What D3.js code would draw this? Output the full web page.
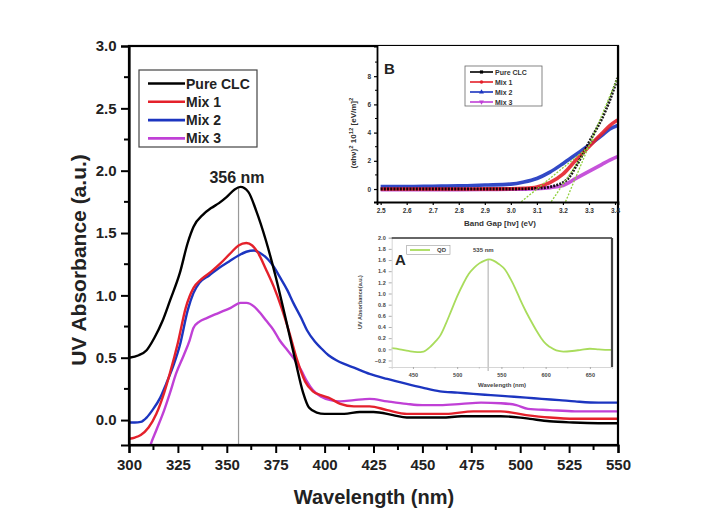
<!DOCTYPE html>
<html><head><meta charset="utf-8">
<script src="https://cdn.jsdelivr.net/npm/d3@7"></script>
<style>body{margin:0;background:#fff}svg{display:block;font-family:"Liberation Sans",Arial,sans-serif}</style>
</head><body>
<svg id="c" width="720" height="516"></svg>
<script>
// ---------------- DATA ----------------
const seriesNames = ["Pure CLC", "Mix 1", "Mix 2", "Mix 3"];
const xTicksMain = [300, 325, 350, 375, 400, 425, 450, 475, 500, 525, 550];
const yTicksMain = [0.0, 0.5, 1.0, 1.5, 2.0, 2.5, 3.0];
const peakMain = 356;
const pureCLC = [[300,0.50],[305,0.52],[309,0.56],[313,0.66],[317,0.79],[321,0.96],[326,1.18],[330,1.42],[333,1.55],[338,1.65],[342,1.70],[346,1.74],[350,1.79],[354,1.85],[357,1.87],[361,1.83],[365,1.68],[370,1.44],[375,1.15],[380,0.82],[385,0.48],[389,0.22],[392,0.10],[396,0.06],[400,0.05],[410,0.05],[418,0.065],[425,0.065],[435,0.04],[442,0.02],[450,0.02],[460,0.02],[470,0.03],[480,0.03],[490,0.03],[500,0.02],[505,0.01],[515,-0.01],[527,-0.02],[540,-0.025],[550,-0.025]];
const mix1 = [[300,-0.15],[303,-0.14],[306,-0.12],[310,-0.06],[314,0.05],[318,0.22],[321,0.38],[325,0.62],[329,0.90],[333,1.06],[337,1.13],[342,1.19],[347,1.26],[352,1.34],[356,1.40],[360,1.42],[363,1.40],[366,1.34],[370,1.21],[374,1.07],[378,0.90],[382,0.70],[386,0.48],[390,0.31],[394,0.23],[398,0.20],[402,0.18],[408,0.13],[415,0.11],[423,0.11],[432,0.08],[442,0.05],[452,0.05],[462,0.05],[476,0.07],[490,0.07],[503,0.04],[515,0.02],[528,0.01],[540,0.01],[550,0.01]];
const mix2 = [[300,-0.02],[303,-0.02],[306,-0.015],[309,0.02],[312,0.08],[316,0.18],[319,0.29],[323,0.45],[326,0.60],[330,0.88],[333,1.02],[336,1.10],[341,1.16],[346,1.22],[351,1.27],[356,1.32],[360,1.35],[364,1.36],[367,1.34],[371,1.29],[374,1.23],[377,1.15],[381,1.04],[384,0.94],[388,0.82],[391,0.72],[395,0.63],[398,0.58],[402,0.52],[406,0.48],[410,0.45],[415,0.42],[423,0.37],[432,0.33],[442,0.29],[450,0.26],[459,0.23],[468,0.22],[476,0.21],[485,0.20],[494,0.19],[503,0.18],[511,0.17],[520,0.16],[528,0.15],[540,0.14],[550,0.14]];
const mix3 = [[308,-0.38],[311,-0.20],[314,-0.08],[318,0.08],[321,0.22],[324,0.37],[328,0.52],[331,0.64],[333,0.74],[336,0.79],[340,0.82],[346,0.86],[352,0.90],[357,0.94],[360,0.94],[364,0.91],[367,0.86],[370,0.80],[374,0.72],[377,0.64],[381,0.56],[384,0.50],[388,0.40],[391,0.31],[394,0.24],[398,0.19],[403,0.16],[408,0.15],[415,0.16],[423,0.17],[432,0.15],[442,0.13],[450,0.12],[459,0.12],[470,0.13],[480,0.14],[490,0.135],[498,0.12],[504,0.09],[515,0.08],[528,0.07],[540,0.07],[550,0.07]];

// Inset B (Tauc plot)
const bgXTicks = [2.5, 2.6, 2.7, 2.8, 2.9, 3.0, 3.1, 3.2, 3.3, 3.4];
const bgYTicks = [0, 2, 4, 6, 8];
const bgPure = [[2.5,0],[2.6,0],[2.7,0],[2.8,0],[2.9,0],[3.0,0],[3.1,0.05],[3.15,0.15],[3.18,0.3],[3.2,0.45],[3.22,0.75],[3.25,1.6],[3.28,2.6],[3.3,3.3],[3.33,4.3],[3.35,5.0],[3.38,6.3],[3.41,7.9]];
const bgMix1 = [[2.5,0],[2.6,0],[2.7,0],[2.8,0],[2.9,0.01],[3.0,0.02],[3.05,0.05],[3.1,0.15],[3.15,0.45],[3.2,1.05],[3.25,2.05],[3.3,3.0],[3.35,3.95],[3.38,4.5],[3.41,4.9]];
const bgMix2 = [[2.5,0.18],[2.6,0.18],[2.7,0.2],[2.8,0.22],[2.9,0.28],[3.0,0.35],[3.05,0.5],[3.1,0.75],[3.15,1.2],[3.2,1.8],[3.25,2.45],[3.3,3.1],[3.35,3.8],[3.38,4.25],[3.41,4.5]];
const bgMix3 = [[2.5,-0.05],[2.6,-0.05],[2.7,-0.05],[2.8,-0.04],[2.9,-0.03],[3.0,-0.02],[3.1,0.03],[3.15,0.1],[3.2,0.25],[3.25,0.75],[3.3,1.25],[3.35,1.75],[3.38,2.05],[3.41,2.3]];
const bgTangents = [[[3.04,-0.9],[3.30,3.0]],[[3.155,-0.9],[3.32,3.6]],[[3.21,-0.9],[3.41,7.9]]];

// Inset A (QD absorbance)
const qdXTicks = [450, 500, 550, 600, 650];
const qdYTicks = [-0.2, 0.0, 0.2, 0.4, 0.6, 0.8, 1.0, 1.2, 1.4, 1.6, 1.8, 2.0];
const qdPeak = 535;
const qd = [[426,0.02],[435,0.0],[445,-0.03],[455,-0.05],[462,-0.04],[470,0.05],[476,0.15],[481,0.25],[487,0.45],[493,0.68],[500,0.95],[507,1.18],[513,1.35],[519,1.46],[525,1.54],[531,1.59],[536,1.61],[541,1.59],[547,1.53],[554,1.43],[560,1.27],[566,1.08],[571,0.90],[577,0.70],[583,0.52],[589,0.35],[595,0.20],[600,0.10],[605,0.04],[612,-0.02],[620,-0.04],[630,-0.03],[640,-0.01],[650,0.01],[660,0.0],[670,-0.01],[675,-0.01]];

// ---------------- DRAW ----------------
const colors = ["#000000", "#e4212b", "#1c35c0", "#c040d6"];
const svg = d3.select("#c");
const FONT = "Liberation Sans, Arial, sans-serif";

// main scales
const x = d3.scaleLinear().domain([300, 550]).range([129, 618]);
const y = d3.scaleLinear().domain([-0.2, 3.0]).range([445, 46]);

svg.append("clipPath").attr("id","mclip").append("rect")
  .attr("x",129).attr("y",46).attr("width",489).attr("height",399);

// peak vertical line
svg.append("line").attr("x1",x(peakMain)).attr("x2",x(peakMain))
  .attr("y1",y(1.87)).attr("y2",y(-0.2)).attr("stroke","#999").attr("stroke-width",1.2);

const line = d3.line().x(d=>x(d[0])).y(d=>y(d[1])).curve(d3.curveMonotoneX);
const mainSeries = [pureCLC, mix1, mix2, mix3];
const mg = svg.append("g").attr("clip-path","url(#mclip)");
[3,2,1,0].forEach(i=>{
  mg.append("path").attr("d",line(mainSeries[i])).attr("fill","none")
    .attr("stroke",colors[i]).attr("stroke-width",2.4).attr("stroke-linejoin","round");
});

// frame
svg.append("rect").attr("x",129).attr("y",46).attr("width",489).attr("height",399)
  .attr("fill","none").attr("stroke","#000").attr("stroke-width",2.2);

// axes
const xAxis = d3.axisBottom(x).tickValues(xTicksMain).tickSize(8).tickFormat(d3.format("d"));
const gx = svg.append("g").attr("transform","translate(0,445)").call(xAxis);
const xMinor = d3.range(312.5, 550, 25);
gx.selectAll(".minor").data(xMinor).enter().append("line").attr("class","minor")
  .attr("x1",d=>x(d)).attr("x2",d=>x(d)).attr("y1",0).attr("y2",5).attr("stroke","#000").attr("stroke-width",2);
const yAxis = d3.axisLeft(y).tickValues(yTicksMain).tickSize(8).tickFormat(d3.format(".1f"));
const gy = svg.append("g").attr("transform","translate(129,0)").call(yAxis);
const yMinor = [0.25, 0.75, 1.25, 1.75, 2.25, 2.75];
gy.selectAll(".minor").data(yMinor).enter().append("line").attr("class","minor")
  .attr("x1",0).attr("x2",-5).attr("y1",d=>y(d)).attr("y2",d=>y(d)).attr("stroke","#000").attr("stroke-width",2);
[gx, gy].forEach(g=>{
  g.select(".domain").attr("stroke","#000").attr("stroke-width",2.2);
  g.selectAll(".tick line").attr("stroke","#000").attr("stroke-width",2);
  g.selectAll(".tick text").attr("font-family",FONT).attr("font-weight","bold").attr("font-size",15).attr("fill","#222");
});
gx.selectAll(".tick text").attr("dy","0.95em");
gy.selectAll(".tick text").attr("dx","-0.1em");

// axis titles
svg.append("text").attr("x",374).attr("y",504).attr("text-anchor","middle")
  .attr("font-family",FONT).attr("font-weight","bold").attr("font-size",20).attr("fill","#222").text("Wavelength (nm)");
svg.append("text").attr("transform","translate(86,260) rotate(-90)").attr("text-anchor","middle")
  .attr("font-family",FONT).attr("font-weight","bold").attr("font-size",21).attr("fill","#222").text("UV Absorbance (a.u.)");

// peak label
svg.append("text").attr("x",237).attr("y",183).attr("text-anchor","middle")
  .attr("font-family",FONT).attr("font-weight","bold").attr("font-size",16).attr("fill","#222").text(peakMain + " nm");

// main legend
const lg = svg.append("g");
lg.append("rect").attr("x",139).attr("y",70).attr("width",118).attr("height",77)
  .attr("fill","#fff").attr("stroke","#444").attr("stroke-width",1.2);
seriesNames.forEach((n,i)=>{
  const yy = 83.5 + i*18.3;
  lg.append("line").attr("x1",148).attr("x2",185).attr("y1",yy).attr("y2",yy).attr("stroke",colors[i]).attr("stroke-width",2.6);
  lg.append("text").attr("x",186).attr("y",yy+5).attr("font-family",FONT).attr("font-weight","bold")
    .attr("font-size",14).attr("fill","#222").text(n);
});

// ---------------- INSET B ----------------
const bx = d3.scaleLinear().domain([2.486, 3.4115]).range([377, 618]);
const by = d3.scaleLinear().domain([-0.92, 10.14]).range([202, 46]);
svg.append("rect").attr("x",377).attr("y",46).attr("width",241).attr("height",156).attr("fill","#fff");
svg.append("clipPath").attr("id","bclip").append("rect").attr("x",377).attr("y",46).attr("width",241).attr("height",156);
const bline = d3.line().x(d=>bx(d[0])).y(d=>by(d[1])).curve(d3.curveMonotoneX);
const bg = svg.append("g").attr("clip-path","url(#bclip)");
const bSeries = [bgPure, bgMix1, bgMix2, bgMix3];
[3,2,1,0].forEach(i=>{
  bg.append("path").attr("d",bline(bSeries[i])).attr("fill","none").attr("stroke",colors[i])
    .attr("stroke-width",i===0?2.8:3.6).attr("stroke-dasharray",i===0?"2,1.2":null).attr("opacity",0.9);
});
bgTangents.forEach(t=>{
  bg.append("path").attr("d",d3.line().x(d=>bx(d[0])).y(d=>by(d[1]))(t)).attr("fill","none")
    .attr("stroke","#8fcf3c").attr("stroke-width",1.3).attr("stroke-dasharray","2,1.5");
});
// B axes
const gbx = svg.append("g").attr("transform","translate(0,202)")
  .call(d3.axisBottom(bx).tickValues(bgXTicks).tickSize(3).tickFormat(d3.format(".1f")));
const gby = svg.append("g").attr("transform","translate(377,0)")
  .call(d3.axisLeft(by).tickValues(bgYTicks).tickSize(3).tickFormat(d3.format("d")));
gby.selectAll(".minor").data([1,3,5,7,9]).enter().append("line").attr("class","minor")
  .attr("x1",0).attr("x2",-2).attr("y1",d=>by(d)).attr("y2",d=>by(d)).attr("stroke","#000");
[gbx,gby].forEach(g=>{
  g.select(".domain").attr("stroke","#000").attr("stroke-width",1.8);
  g.selectAll(".tick line").attr("stroke","#000").attr("stroke-width",1.2);
  g.selectAll(".tick text").attr("font-family",FONT).attr("font-weight","bold").attr("font-size",6.5).attr("fill","#333");
});
svg.append("line").attr("x1",618).attr("x2",618).attr("y1",46).attr("y2",202).attr("stroke","#000").attr("stroke-width",2.2);
svg.append("text").attr("x",500).attr("y",226).attr("text-anchor","middle").attr("font-family",FONT)
  .attr("font-weight","bold").attr("font-size",8).attr("fill","#333").text("Band Gap [hν] (eV)");
const byl = svg.append("text").attr("transform","translate(356,133) rotate(-90)").attr("text-anchor","middle")
  .attr("font-family",FONT).attr("font-weight","bold").attr("font-size",8).attr("fill","#333");
byl.append("tspan").text("(αhν)");
byl.append("tspan").attr("baseline-shift","super").attr("font-size",6).text("2");
byl.append("tspan").text(" 10");
byl.append("tspan").attr("baseline-shift","super").attr("font-size",6).text("12");
byl.append("tspan").text(" [eV/m]");
byl.append("tspan").attr("baseline-shift","super").attr("font-size",6).text("2");
svg.append("text").attr("x",384).attr("y",74).attr("font-family",FONT).attr("font-weight","bold")
  .attr("font-size",15).attr("fill","#222").text("B");
// B legend
const blg = svg.append("g");
blg.append("rect").attr("x",465).attr("y",66).attr("width",77).attr("height",40)
  .attr("fill","#fff").attr("stroke","#666").attr("stroke-width",0.8);
const bsym = [d3.symbolSquare, d3.symbolCircle, d3.symbolTriangle, d3.symbolTriangle];
seriesNames.forEach((n,i)=>{
  const yy = 72 + i*10;
  blg.append("line").attr("x1",470).attr("x2",493).attr("y1",yy).attr("y2",yy).attr("stroke",colors[i]).attr("stroke-width",1.6);
  blg.append("path").attr("d",d3.symbol().type(bsym[i]).size(10)())
    .attr("transform",`translate(481.5,${yy}) rotate(${i===3?180:0})`).attr("fill",colors[i]);
  blg.append("text").attr("x",495).attr("y",yy+2.5).attr("font-family",FONT).attr("font-weight","bold")
    .attr("font-size",7).attr("fill","#333").text(n);
});

// ---------------- INSET A ----------------
const ax = d3.scaleLinear().domain([426, 675]).range([391.7, 612]);
const ay = d3.scaleLinear().domain([-0.317, 2.0]).range([367, 237.7]);
svg.append("rect").attr("x",391.7).attr("y",237.7).attr("width",220.3).attr("height",129.3).attr("fill","#fff");
svg.append("line").attr("x1",ax(qdPeak)).attr("x2",ax(qdPeak)).attr("y1",ay(1.62)).attr("y2",ay(-0.317)+4)
  .attr("stroke","#aaa").attr("stroke-width",1);
svg.append("path").attr("d",d3.line().x(d=>ax(d[0])).y(d=>ay(d[1])).curve(d3.curveMonotoneX)(qd))
  .attr("fill","none").attr("stroke","#a9dc5c").attr("stroke-width",1.8);
const gax = svg.append("g").attr("transform","translate(0,367)")
  .call(d3.axisBottom(ax).tickValues(qdXTicks).tickSize(2).tickFormat(d3.format("d")));
gax.selectAll(".minor").data([475,525,575,625]).enter().append("line").attr("class","minor")
  .attr("x1",d=>ax(d)).attr("x2",d=>ax(d)).attr("y1",0).attr("y2",1.5).attr("stroke","#bbb");
const gay = svg.append("g").attr("transform","translate(391.7,0)")
  .call(d3.axisLeft(ay).tickValues(qdYTicks).tickSize(3).tickFormat(d3.format(".1f")));
[gax,gay].forEach(g=>{
  g.select(".domain").attr("stroke","#ccc").attr("stroke-width",0.8);
  g.selectAll(".tick line").attr("stroke","#999").attr("stroke-width",0.8);
  g.selectAll(".tick text").attr("font-family",FONT).attr("font-weight","bold").attr("font-size",5.5).attr("fill","#444");
});
gax.selectAll(".tick text").attr("dy","0.9em");
svg.append("line").attr("x1",391.7).attr("x2",612).attr("y1",238).attr("y2",238).attr("stroke","#333").attr("stroke-width",1.6);
svg.append("line").attr("x1",612).attr("x2",612).attr("y1",238).attr("y2",367).attr("stroke","#444").attr("stroke-width",2.2);
svg.append("text").attr("x",502).attr("y",387).attr("text-anchor","middle").attr("font-family",FONT)
  .attr("font-weight","bold").attr("font-size",6).attr("fill","#444").text("Wavelength (nm)");
svg.append("text").attr("transform","translate(362,302) rotate(-90)").attr("text-anchor","middle")
  .attr("font-family",FONT).attr("font-weight","bold").attr("font-size",5.5).attr("fill","#444").text("UV Absorbance(a.u.)");
svg.append("text").attr("x",395).attr("y",265).attr("font-family",FONT).attr("font-weight","bold")
  .attr("font-size",15).attr("fill","#222").text("A");
svg.append("rect").attr("x",406.7).attr("y",245.5).attr("width",43.3).attr("height",9)
  .attr("fill","#fff").attr("stroke","#999").attr("stroke-width",0.6);
svg.append("line").attr("x1",410).attr("x2",430).attr("y1",250).attr("y2",250).attr("stroke","#a9dc5c").attr("stroke-width",1.8);
svg.append("text").attr("x",437).attr("y",252.3).attr("font-family",FONT).attr("font-weight","bold")
  .attr("font-size",6).attr("fill","#444").text("QD");
svg.append("text").attr("x",473).attr("y",252.3).attr("font-family",FONT).attr("font-weight","bold")
  .attr("font-size",6).attr("fill","#444").text(qdPeak + " nm");
</script>
</body></html>
